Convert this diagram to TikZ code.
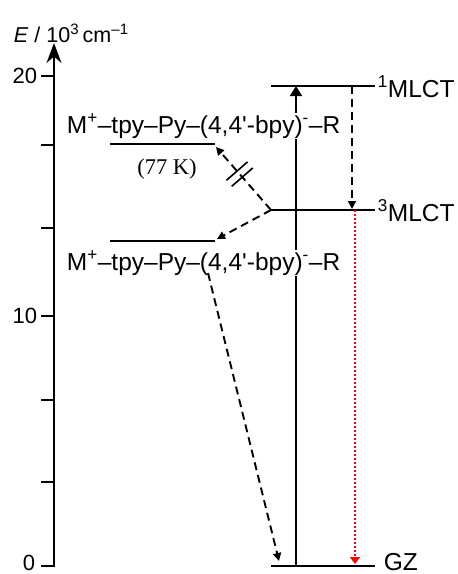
\documentclass[tikz,border=0pt]{standalone}
\usepackage{fontspec}
\setmainfont{Liberation Sans}
\newfontfamily\lsq{Liberation Sans}
\newfontfamily\serifm{Liberation Serif}
\usetikzlibrary{arrows.meta,calc}
\newcommand{\sq}{{\lsq\symbol{"27}}}
\begin{document}
\begin{tikzpicture}[x=1pt,y=-1pt,
  line width=1.8pt,
  lvl/.style={line width=2pt},
  dsh/.style={line width=1.9pt, dash pattern=on 8pt off 5pt, -{Triangle[length=8pt,width=8pt]}},
  big/.style={font=\fontsize{24.5}{28}\selectfont, inner sep=0pt},
  ttl/.style={font=\fontsize{21.5}{25}\selectfont, inner sep=0pt},
  ticklbl/.style={font=\fontsize{22}{26}\selectfont, inner sep=0pt, anchor=east},
  mol/.style={big, fill=white, anchor=base west, inner sep=1pt},
]
\useasboundingbox (0,0) rectangle (458,574);
% axis
\coordinate (ax0) at (54,567);
\coordinate (axtop) at (54,43);
\draw[-{Stealth[length=20pt,width=15pt]}] (ax0) -- (axtop);
\foreach \yy in {76,145,228,316,400,482,566} \draw (41,\yy) -- (54,\yy);
\node[ticklbl] (t20) at (38,76) {20};
\node[ticklbl] (t10) at (38,316) {10};
\node[ticklbl] (t0) at (36,563) {0};
\node[ttl, anchor=base west] (title) at (13,42) {\textit{E} / 10\textsuperscript{3}\,cm\textsuperscript{–1}};
% levels
\coordinate (s1l) at (271,86);  \coordinate (s1r) at (375,86);
\coordinate (t1l) at (271,210); \coordinate (t1r) at (375,210);
\coordinate (gl) at (271,566);  \coordinate (gr) at (375,566);
\coordinate (a77l) at (110,144); \coordinate (a77r) at (215,144);
\coordinate (al) at (110,241);  \coordinate (ar) at (215,241);
\draw[lvl] (s1l) -- (s1r);
\draw[lvl] (t1l) -- (t1r);
\draw[lvl] (gl) -- (gr);
\draw[lvl] (a77l) -- (a77r);
\draw[lvl] (al) -- (ar);
% absorption
\coordinate (abs0) at (296,566); \coordinate (abs1) at (296,86);
\draw[-{Triangle[length=10pt,width=12pt]}] (abs0) -- (abs1);
% ISC
\coordinate (isc0) at (352,86); \coordinate (isc1) at (352,209);
\draw[dsh] (isc0) -- (isc1);
% phosphorescence
\coordinate (ph0) at (355,210); \coordinate (ph1) at (355,564);
\draw[red, line width=2pt, dash pattern=on 2pt off 2pt, -{Triangle[length=7pt,width=10pt]}] (ph0) -- (ph1);
% transfers
\coordinate (a77t) at (216,147);
\coordinate (art) at (217,239);
\draw[dsh] (t1l) -- (a77t);
\draw[dsh] (t1l) -- (art);
\path (t1l) -- (a77t) coordinate[pos=0.57] (brk);
\coordinate (b1) at ($(brk)!4pt!(t1l)$);
\coordinate (b2) at ($(brk)!4pt!(a77t)$);
\draw[line width=1.6pt] ($(b1)!14pt!90:(t1l)$) -- ($(b1)!14pt!-90:(t1l)$);
\draw[line width=1.6pt] ($(b2)!14pt!90:(t1l)$) -- ($(b2)!14pt!-90:(t1l)$);
% texts
\node[mol] (m77) at (65,133) {M\textsuperscript{+}–tpy–Py–(4,4\sq-bpy)\textsuperscript{-}–R};
\node[mol] (m) at (65,270) {M\textsuperscript{+}–tpy–Py–(4,4\sq-bpy)\textsuperscript{-}–R};
\node[font=\serifm\fontsize{22.5}{26}\selectfont, anchor=base, inner sep=0pt] (k77) at (167,174) {(77 K)};
\node[big, anchor=base west] (l1) at (377,97) {\textsuperscript{1}MLCT};
\node[big, anchor=base west] (l3) at (377,221) {\textsuperscript{3}MLCT};
\node[big, anchor=base west] (gz) at (383,570) {GZ};
% long decay
\coordinate (fl0) at (208,273); \coordinate (fl1) at (279,561);
\draw[dsh] (fl0) -- (fl1);
\end{tikzpicture}
\end{document}
